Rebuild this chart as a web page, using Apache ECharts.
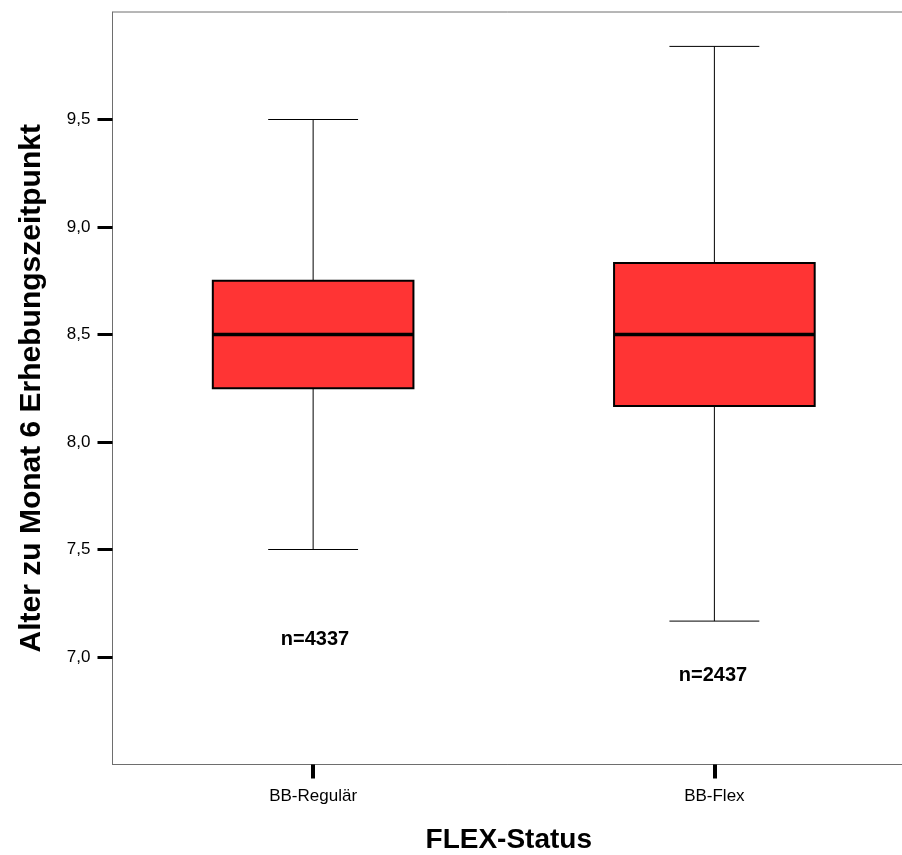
<!DOCTYPE html>
<html>
<head>
<meta charset="utf-8">
<script src="https://cdn.jsdelivr.net/npm/echarts@6/dist/echarts.min.js"></script>
<style>html,body{margin:0;padding:0;background:#fff}#c{width:902px;height:855px}</style>
</head>
<body>
<div id="c"></div>
<script>
const categories = ['BB-Regulär', 'BB-Flex'];
const whiskerLow  = [7.5, 7.167];
const quartile1   = [8.25, 8.167];
const medians     = [8.5, 8.5];
const quartile3   = [8.75, 8.833];
const whiskerHigh = [9.5, 9.84];
const counts      = [4337, 2437];
const yTicks      = [7.0, 7.5, 8.0, 8.5, 9.0, 9.5];

const chart = echarts.init(document.getElementById('c'), null, {renderer: 'canvas'});
const boxData = categories.map((c, i) => [i, whiskerLow[i], quartile1[i], medians[i], quartile3[i], whiskerHigh[i]]);

const option = {
  backgroundColor: '#fff',
  animation: false,
  grid: {left: 112.5, top: 12, bottom: 90.5, right: -13, outerBoundsMode: 'none', containLabel: false,
    show: true, borderColor: '#6e6e6e', borderWidth: 1},
  xAxis: {
    type: 'category',
    data: categories,
    boundaryGap: true,
    name: 'FLEX-Status',
    nameLocation: 'middle',
    nameGap: 62,
    nameTextStyle: {fontFamily: 'Liberation Sans, Arial', fontWeight: 'bold', fontSize: 28, color: '#000', padding: [0, 10, 0, 0]},
    axisLine: {show: true, lineStyle: {color: '#6e6e6e', width: 1}},
    axisTick: {show: true, alignWithLabel: true, length: 14, lineStyle: {color: '#000', width: 4}},
    axisLabel: {fontFamily: 'Liberation Sans, Arial', fontSize: 17, color: '#000', margin: 23},
    splitLine: {show: false}
  },
  yAxis: {
    type: 'value',
    min: 6.5, max: 10.0, interval: 0.5,
    name: 'Alter zu Monat 6 Erhebungszeitpunkt',
    nameLocation: 'middle',
    nameGap: 66,
    nameTextStyle: {fontFamily: 'Liberation Sans, Arial', fontWeight: 'bold', fontSize: 30, color: '#000'},
    axisLine: {show: true, lineStyle: {color: '#6e6e6e', width: 1}},
    axisTick: {show: true, length: 15, customValues: yTicks, lineStyle: {color: '#000', width: 3}},
    axisLabel: {fontFamily: 'Liberation Sans, Arial', fontSize: 17, color: '#000', margin: 22,
      customValues: yTicks,
      formatter: v => v.toFixed(1).replace('.', ',')},
    splitLine: {show: false}
  },
  series: [{
    type: 'custom',
    data: boxData,
    encode: {x: 0, y: [1, 2, 3, 4, 5]},
    renderItem: function (params, api) {
      const idx = api.value(0);
      const band = api.size([1, 0])[0];
      const bw = band * 0.5;
      const cw = band * 0.224;
      const pLow = api.coord([idx, api.value(1)]);
      const pQ1 = api.coord([idx, api.value(2)]);
      const pMed = api.coord([idx, api.value(3)]);
      const pQ3 = api.coord([idx, api.value(4)]);
      const pHigh = api.coord([idx, api.value(5)]);
      const x = pMed[0];
      const thin = {stroke: '#000', lineWidth: 1};
      return {
        type: 'group',
        children: [
          {type: 'line', shape: {x1: x, y1: pHigh[1], x2: x, y2: pQ3[1]}, style: thin},
          {type: 'line', shape: {x1: x, y1: pQ1[1], x2: x, y2: pLow[1]}, style: thin},
          {type: 'line', shape: {x1: x - cw / 2, y1: pHigh[1], x2: x + cw / 2, y2: pHigh[1]}, style: thin},
          {type: 'line', shape: {x1: x - cw / 2, y1: pLow[1], x2: x + cw / 2, y2: pLow[1]}, style: thin},
          {type: 'rect', shape: {x: x - bw / 2, y: pQ3[1], width: bw, height: pQ1[1] - pQ3[1]},
            style: {fill: '#FF3434', stroke: '#000', lineWidth: 2}},
          {type: 'line', shape: {x1: x - bw / 2, y1: pMed[1], x2: x + bw / 2, y2: pMed[1]}, style: {stroke: '#000', lineWidth: 3.5}}
        ]
      };
    },
    z: 3
  }],
  graphic: [
    {type: 'text', x: 315, y: 639, style: {text: 'n=' + counts[0], font: 'bold 20px "Liberation Sans", Arial', fill: '#000', align: 'center', verticalAlign: 'middle'}},
    {type: 'text', x: 713, y: 675, style: {text: 'n=' + counts[1], font: 'bold 20px "Liberation Sans", Arial', fill: '#000', align: 'center', verticalAlign: 'middle'}}
  ]
};
chart.setOption(option);
</script>
</body>
</html>
